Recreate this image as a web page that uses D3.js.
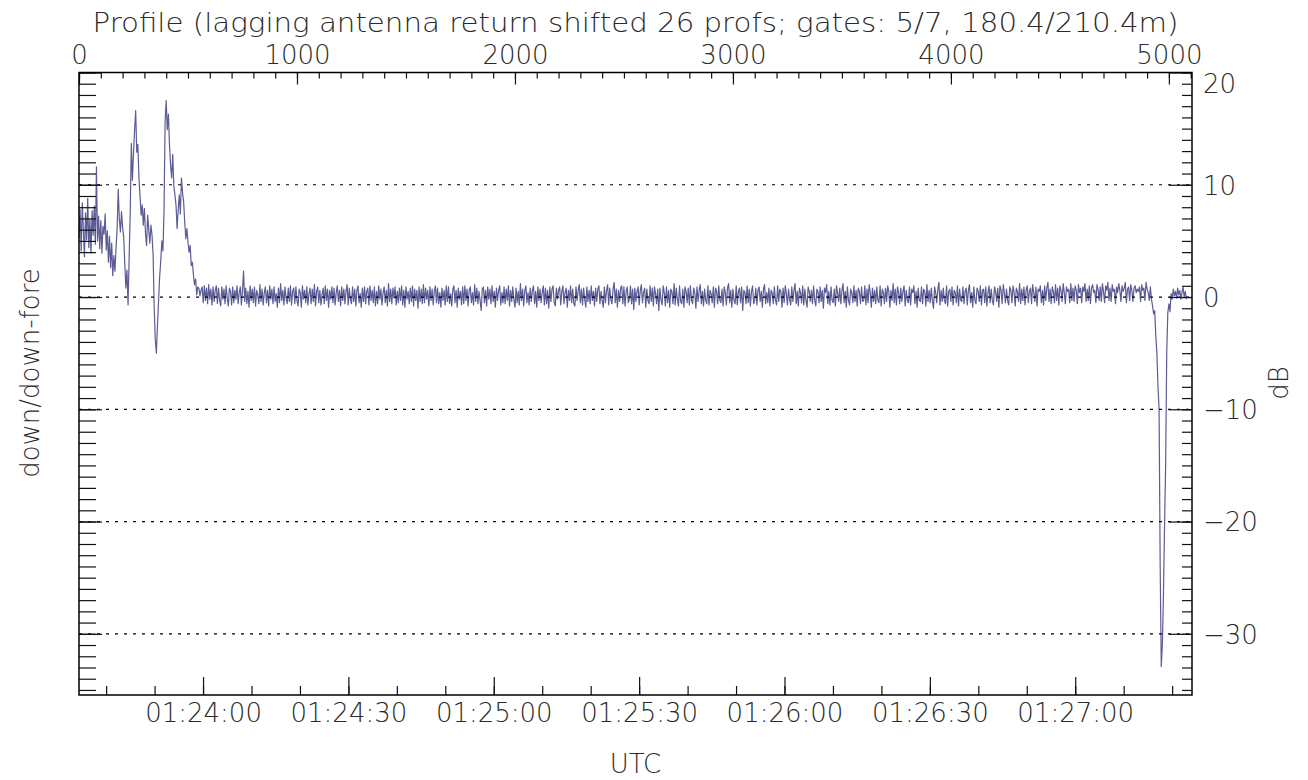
<!DOCTYPE html>
<html>
<head>
<meta charset="utf-8">
<script src="https://cdn.jsdelivr.net/npm/d3@7"></script>
<style>
    body { margin: 0; background: #fff; }
    text { font-family: "DejaVu Sans", sans-serif; font-weight: 200; fill: #2a2a2a; }
    .axis path.domain { display: none; }
    .axis line { stroke: #111; stroke-width: 1.2; }
</style>
</head>
<body>
<svg id="chart" width="1308" height="780"></svg>
<script>
// profile spacing of the stored samples
const profileStep = 5;

// down/down-fore ratio (dB), profiles 0..560
const turbulentDb = [
    5.2, 7.8, 4.1, 8.4, 6.0, 3.6, 7.5, 5.1, 8.8, 4.4, 6.9, 3.9, 7.7, 5.5, 8.1, 4.7,
    11.6,
    5.0, 7.2, 4.3, 6.8, 3.9, 6.3, 5.6, 7.4, 4.2, 5.9, 3.1, 5.4, 2.6, 4.8, 1.9, 3.7, 2.3, 4.4, 6.2,
    9.6, 7.0, 5.8, 7.6, 6.2, 5.4, 3.0, 0.8, 2.4, -0.7,
    3.5, 7.5, 13.7, 10.4, 12.8, 14.9, 16.6, 12.9, 13.6, 10.6,
    9.0, 7.3, 8.2, 6.4, 7.9, 5.7, 4.6, 7.3, 6.0, 4.8,
    6.4, 5.5, 3.8, -1.0, -3.8, -5.0, -2.5, -0.4, 1.8, 3.2,
    5.0, 4.1, 7.6, 15.6, 17.5, 14.9, 16.3, 13.6, 11.8, 10.6,
    12.7, 9.9, 9.1, 8.2, 6.1, 7.8, 9.1, 7.4, 10.6, 9.3,
    8.5, 6.7, 5.2, 6.1, 4.9, 4.0, 4.6, 2.8, 3.1, 2.0,
    1.1, 1.6, 0.2, 0.9, 0.8, 0.1, 0.6
];

// profiles 565..4900
const steadyDb = [
    0.9, -0.5, 1.0, -0.3, 0.8, -0.6, 1.1, -0.2, 0.7, -0.7, 0.9, -0.4, 0.6, 1.0, -0.6, 0.8, -0.3, -0.8, 0.9, -0.2,
    0.7, -0.6, 1.0, -0.1, -0.8, 0.8, 0.5, -0.7, 0.9, -0.5, 0.6, -0.2, 1.0, -0.6, 0.4, 0.9, -0.7, 0.6, 2.3, -0.4,
    0.8, -0.6, 0.5, -0.9, 1.0, -0.3, 0.7, -0.5, 0.9, -0.8, 0.6, 0.2, -0.6, 1.1, -0.4, 0.7, -0.7, 0.4, 0.9, -0.5,
    0.6, -0.8, 1.0, -0.2, 0.7, -0.6, 0.9, -0.4, 0.3, -0.9, 0.8, -0.5, 1.2, -0.3, 0.6, -0.7, 0.9, -0.1, -0.6, 0.8,
    -0.4, 1.0, -0.7, 0.5, 0.8, -0.6, 0.9, -0.3, -0.8, 0.7, 0.4, -0.9, 1.0, -0.2, 0.6, -0.5, 0.9, -0.7, 0.3, 0.8,
    -0.6, 0.7, -0.4, 1.1, -0.8, 0.5, 0.9, -0.5, 0.6, -0.7, 0.2, 0.8, -0.6, 1.0, -0.3, 0.7, -0.9, 0.6, -0.2, 0.9,
    -0.5, 0.8, -0.7, 0.4, 1.0, -0.4, 0.6, -0.8, 0.9, -0.3, 0.7, -0.6, 0.5, 1.1, -0.7, 0.8, -0.2, -0.6, 0.9, -0.4,
    0.7, -0.8, 0.6, 1.0, -0.5, 0.3, -0.9, 0.8, -0.4, 0.9, -0.6, 0.5, 0.8, -0.7, 1.0, -0.3, 0.6, -0.5, 0.9, -0.8,
    0.5, -0.6, 1.0, -0.2, 0.7, -0.7, 0.4, 0.9, -0.5, 0.6, -0.8, 1.2, -0.4, 0.7, -0.6, 0.8, -0.1, 0.9, -0.7, 0.5,
    -0.5, 0.8, -0.3, 1.0, -0.7, 0.6, -0.9, 0.9, -0.2, 0.5, -0.6, 0.8, -0.4, 1.0, -0.8, 0.7, -0.3, 0.6, -1.0, 0.9,
    -0.4, 0.7, -0.6, 1.1, -0.5, 0.8, -0.2, 0.6, -0.8, 0.9, -0.3, 0.7, -0.7, 0.5, 1.0, -0.5, 0.8, -0.6, 0.4, -0.9,
    0.8, -0.3, 0.6, -0.7, 1.0, -0.4, 0.9, -0.6, 0.3, -0.8, 0.7, 1.0, -0.5, 0.6, -0.9, 0.8, -0.2, 0.5, -0.7, 0.9,
    -0.6, 1.0, -0.3, 0.7, -0.8, 0.6, 0.9, -0.5, 0.4, -0.7, 1.1, -0.4, 0.8, -0.6, 0.5, -0.3, -1.2, 0.7, 0.9, -0.5,
    0.6, -0.8, 0.9, -0.2, 0.7, -0.6, 1.0, -0.4, 0.5, -0.9, 0.8, -0.3, 0.6, 1.0, -0.7, 0.4, -0.5, 0.9, -0.6, 0.7,
    -0.3, 1.0, -0.8, 0.6, -0.4, 0.9, -0.2, -0.9, 0.8, -0.5, 0.5, -0.7, 1.2, -0.3, 0.7, -0.8, 0.6, 1.0, -0.5, 0.4,
    -0.7, 0.8, -0.4, 0.6, 1.0, -0.6, 0.5, -0.9, 0.9, -0.3, 0.7, -0.5, 0.4, 1.0, -0.7, 0.8, -0.6, 0.6, -1.0, 0.9,
    -0.4, 0.7, 1.0, -0.5, -0.8, 0.8, -0.2, 0.6, 0.9, -0.7, 0.5, 1.0, -0.6, 0.4, 0.8, -0.9, 0.6, -0.3, 1.0, -0.5,
    0.7, -0.6, -0.8, 0.9, -0.3, 0.6, 1.1, -0.5, 0.7, -0.7, 0.8, -0.2, -0.9, 0.9, -0.4, 0.6, -0.6, 1.0, -0.3, 0.5,
    -0.8, 0.8, -0.4, 0.7, 1.0, -0.6, 0.5, -0.3, -0.9, 0.9, -0.5, 0.6, 1.1, -0.7, 0.8, -0.2, -0.6, 0.7, 1.3, -0.5,
    0.7, -0.9, 0.6, -0.4, 0.8, 1.0, -0.6, 0.9, -0.8, 0.5, 0.9, -0.5, -0.2, 1.0, -0.6, 0.7, -1.1, 0.8, -0.4, 0.5,
    0.9, -0.7, 0.6, 1.1, -0.5, 0.4, 0.8, -0.9, 0.7, -0.3, -0.6, 1.0, -0.4, 0.8, -0.8, 0.9, 0.3, -0.6, 0.7, -1.2,
    0.8, -0.3, -0.7, 1.0, 0.4, -0.8, 0.9, -0.5, 0.6, -0.9, 0.7, 0.5, -0.6, 1.2, -0.7, 0.8, -0.2, -0.8, 1.0, -0.4,
    -0.6, 0.7, -0.9, 0.9, 0.5, -0.5, 0.8, -0.7, 1.0, -0.3, -0.6, 0.8, 0.4, -1.0, 0.9, -0.4, 0.6, 1.1, -0.6, 0.5,
    -0.8, 0.7, -0.3, -0.6, 1.0, -0.7, 0.6, 0.3, -0.5, 0.9, -0.9, 0.8, 0.5, -0.6, 1.0, -0.3, -0.5, 0.7, -0.8, 0.9,
    0.4, -0.7, 0.8, 1.2, -0.5, 0.6, -0.9, 0.7, -0.3, -0.6, 1.0, -0.7, 0.5, 0.8, -0.5, 0.9, -1.2, 0.6, 0.4, -0.6,
    1.0, -0.5, 0.7, -0.8, 0.5, 1.0, -0.6, -0.3, 0.8, -0.7, 0.6, 0.9, -0.4, 0.5, -0.9, 0.7, 1.1, -0.6, 0.4, -0.5,
    0.8, -0.8, 0.6, 0.4, -0.6, 0.9, -0.3, -0.7, 1.0, -0.4, 0.7, 0.5, -0.9, 0.8, -0.5, 1.0, 0.3, -0.7, 0.7, -0.2,
    -0.7, 0.9, -0.4, 0.6, 1.2, -0.6, 0.5, -0.8, 0.8, 0.4, -0.5, 1.0, -0.7, 0.7, -0.3, -0.9, 0.9, 0.5, -0.4, 0.6,
    -0.6, 1.0, -0.3, -0.8, 0.7, 0.5, -0.5, 0.9, -0.4, 0.6, -1.0, 0.8, 0.4, 1.1, -0.6, 0.5, -0.7, 0.9, -0.3, -0.5,
    0.7, -0.8, 1.0, 0.4, -0.4, 0.8, -0.6, 0.6, 1.2, -0.5, 0.5, -0.9, 0.9, -0.3, -0.7, 0.7, 0.4, -0.5, 1.0, -0.4,
    0.6, -0.8, 0.8, 0.5, -0.6, 0.9, -0.4, -0.3, 1.0, -0.7, 0.7, -0.5, 1.1, 0.4, -0.9, 0.8, -0.4, 0.6, -0.6, 0.9,
    -0.3, -0.5, 1.0, -0.8, 0.7, 0.4, -0.6, 0.8, -0.4, 1.0, 0.5, -0.9, 0.6, -0.3, 1.2, -0.5, 0.7, -0.7, 0.9, 0.4,
    -0.6, 0.8, -0.4, 0.5, 1.0, -0.8, 0.6, -0.3, -0.5, 0.9, -0.7, 0.7, 0.4, 1.0, -0.6, 0.5, -0.9, 0.8, -0.3, -0.4,
    0.9, -0.6, 0.7, 0.5, -0.8, 1.1, -0.4, 0.6, -0.5, 0.8, -0.3, -1.0, 0.9, 0.4, -0.5, 0.7, 1.3, -0.7, 0.6, -0.4,
    0.8, -0.3, -0.6, 1.0, -0.8, 0.5, 0.7, -0.4, 0.9, -0.7, 0.6, 0.4, -0.5, 1.0, -0.8, 0.7, -0.3, -0.4, 0.9, -0.6,
    0.5, 0.8, -0.7, 0.6, 1.1, -0.5, 0.4, -0.9, 0.9, -0.3, -0.6, 0.8, 0.5, -0.4, 1.0, -0.7, 0.6, 0.7, -0.5, 0.9,
    -0.8, 0.4, 1.0, -0.5, 0.7, -0.3, -0.7, 0.9, 0.5, -0.4, 0.8, -0.9, 1.0, 0.6, -0.6, 1.1, 0.4, -0.5, 0.7, -0.3,
    -0.7, 0.9, 0.6, -0.5, 1.0, 0.4, -0.8, 0.8, 0.5, -0.4, 1.2, -0.6, 0.7, -0.3, 0.9, -0.7, 0.6, 1.0, -0.5, 0.5,
    0.8, -0.6, 1.1, 0.4, -0.4, 0.9, -0.8, 0.7, 0.5, 1.0, -0.5, 0.6, -0.7, 1.0, -0.3, 0.8, 1.3, -0.4, 0.7, -0.6,
    0.9, 0.5, -0.5, 1.1, -0.3, 0.8, -0.7, 1.0, 0.6, -0.4, 1.2, 0.4, -0.6, 0.9, 0.5, 0.7, -0.5, 1.2, -0.3, 0.8,
    -0.4, 1.0, 0.6, -0.6, 1.1, 0.4, 0.8, -0.5, 0.9, 0.5, 1.2, -0.4, 0.7, -0.3, 1.0, -0.6, 0.8, 1.1, 0.4, 0.6,
    -0.5, 1.1, 0.7, -0.3, 0.9, -0.4, 1.2, 0.5, -0.5, 1.0, 0.6, 1.3, -0.3, 0.8, -0.4, 1.1, 0.5, 0.7, -0.6, 0.9,
    0.4, 1.2, 0.6, -0.4, 1.0, 0.5, 0.8, 1.3, -0.5, 0.7, 0.9, -0.3, 1.1, 0.6, -0.4, 0.8, 1.0, 0.4, 0.7, 0.5,
    0.9, -0.4, 1.1, 0.6, 0.8, -0.3, 1.3, 0.7
];

// profiles 4905..5080 (the deep notch near the end)
const dipDb = [
    0.4, -0.3, 0.9, -0.2, -0.8, -1.5, -1.2, -3.5, -5.0, -8.0,
    -10.0, -24.0, -32.9, -31.0, -26.5, -20.5, -15.0, -5.0, -1.4, -0.6,
    -1.3, 0.3, -0.2, 0.7, 0.1, 0.5, -0.1, 0.8, 0.2, 0.6,
    -0.2, 0.4, 0.9, 0.0, 0.5, -0.2
];

const profileTicks = [0, 1000, 2000, 3000, 4000, 5000];
const dbTicks = [-30, -20, -10, 0, 10, 20];
const gridDb = [-30, -20, -10, 0, 10];

const titleText = "Profile (lagging antenna return shifted 26 profs; gates: 5/7, 180.4/210.4m)";
const timeStart = new Date(Date.UTC(2000, 0, 1, 1, 23, 34, 400));
const timeEnd = new Date(Date.UTC(2000, 0, 1, 1, 27, 24, 100));

const svg = d3.select("#chart");
const plotLeft = 79, plotRight = 1192, plotTop = 72.5, plotBottom = 695;

const series = turbulentDb.concat(steadyDb, dipDb)
    .map((v, i) => ({p: i * profileStep, v: v}));

const xProf = d3.scaleLinear().domain([0, 5106]).range([plotLeft, plotRight]);
const xTime = d3.scaleUtc().domain([timeStart, timeEnd]).range([plotLeft, plotRight]);
const y = d3.scaleLinear().domain([-35.45, 20]).range([plotBottom, plotTop]);

// data trace
svg.append("path")
    .datum(series)
    .attr("fill", "none")
    .attr("stroke", "#5c5c96")
    .attr("stroke-width", 1.2)
    .attr("stroke-linejoin", "round")
    .attr("d", d3.line().x(d => xProf(d.p)).y(d => y(d.v)));

// dotted grid over the data
svg.append("g").selectAll("line")
    .data(gridDb)
    .join("line")
    .attr("x1", plotLeft).attr("x2", plotRight)
    .attr("y1", d => y(d)).attr("y2", d => y(d))
    .attr("stroke", "#000")
    .attr("stroke-width", 1.2)
    .attr("stroke-dasharray", "3,6");

//top profile axis
svg.append("g").attr("class", "axis").attr("transform", `translate(0,${plotTop})`)
    .call(d3.axisTop(xProf).tickValues(d3.range(0, 5101, 100)).tickSize(-6).tickFormat(""));
svg.append("g").attr("class", "axis").attr("transform", `translate(0,${plotTop})`)
    .call(d3.axisTop(xProf).tickValues(profileTicks).tickSize(-12).tickPadding(9)
        .tickFormat(d3.format("d")))
    .selectAll("text").attr("font-size", 26);

//bottom time axis
svg.append("g").attr("class", "axis").attr("transform", `translate(0,${plotBottom})`)
    .call(d3.axisBottom(xTime).ticks(d3.utcSecond.every(10)).tickSize(-9).tickFormat(""));
svg.append("g").attr("class", "axis").attr("transform", `translate(0,${plotBottom})`)
    .call(d3.axisBottom(xTime).ticks(d3.utcSecond.every(30)).tickSize(-18).tickPadding(9)
        .tickFormat(d3.utcFormat("%H:%M:%S")))
    .selectAll("text").attr("font-size", 26);

//left axis, no labels
svg.append("g").attr("class", "axis").attr("transform", `translate(${plotLeft},0)`)
    .call(d3.axisLeft(y).tickValues(d3.range(-35, 21, 1)).tickSize(-17).tickFormat(""));
svg.append("g").attr("class", "axis").attr("transform", `translate(${plotLeft},0)`)
    .call(d3.axisLeft(y).tickValues(dbTicks).tickSize(-23).tickFormat(""));

//right axis with dB labels
svg.append("g").attr("class", "axis").attr("transform", `translate(${plotRight},0)`)
    .call(d3.axisRight(y).tickValues(d3.range(-35, 21, 1)).tickSize(-10).tickFormat(""));
let rightAxis = svg.append("g").attr("class", "axis").attr("transform", `translate(${plotRight},0)`)
    .call(d3.axisRight(y).tickValues(dbTicks).tickSize(-23).tickPadding(11)
        .tickFormat(d => d < 0 ? "\u2212" + Math.abs(d) : d));
rightAxis.selectAll("text")
    .attr("font-size", 26)
    .attr("dy", d => d === 20 ? "0.78em" : "0.36em");

// frame
svg.append("rect")
    .attr("x", plotLeft).attr("y", plotTop)
    .attr("width", plotRight - plotLeft).attr("height", plotBottom - plotTop)
    .attr("fill", "none").attr("stroke", "#000").attr("stroke-width", 1.5);

// titles
svg.append("text").attr("x", (plotLeft + plotRight) / 2).attr("y", 32)
    .attr("text-anchor", "middle").attr("font-size", 26)
    .attr("textLength", 1086).attr("lengthAdjust", "spacingAndGlyphs")
    .text(titleText);
svg.append("text").attr("x", (plotLeft + plotRight) / 2).attr("y", 773)
    .attr("text-anchor", "middle").attr("font-size", 26).text("UTC");
svg.append("text").attr("transform", "translate(39,373) rotate(-90)")
    .attr("text-anchor", "middle").attr("font-size", 26).text("down/down-fore");
svg.append("text").attr("transform", "translate(1288,383) rotate(-90)")
    .attr("text-anchor", "middle").attr("font-size", 26).text("dB");
</script>
</body>
</html>
